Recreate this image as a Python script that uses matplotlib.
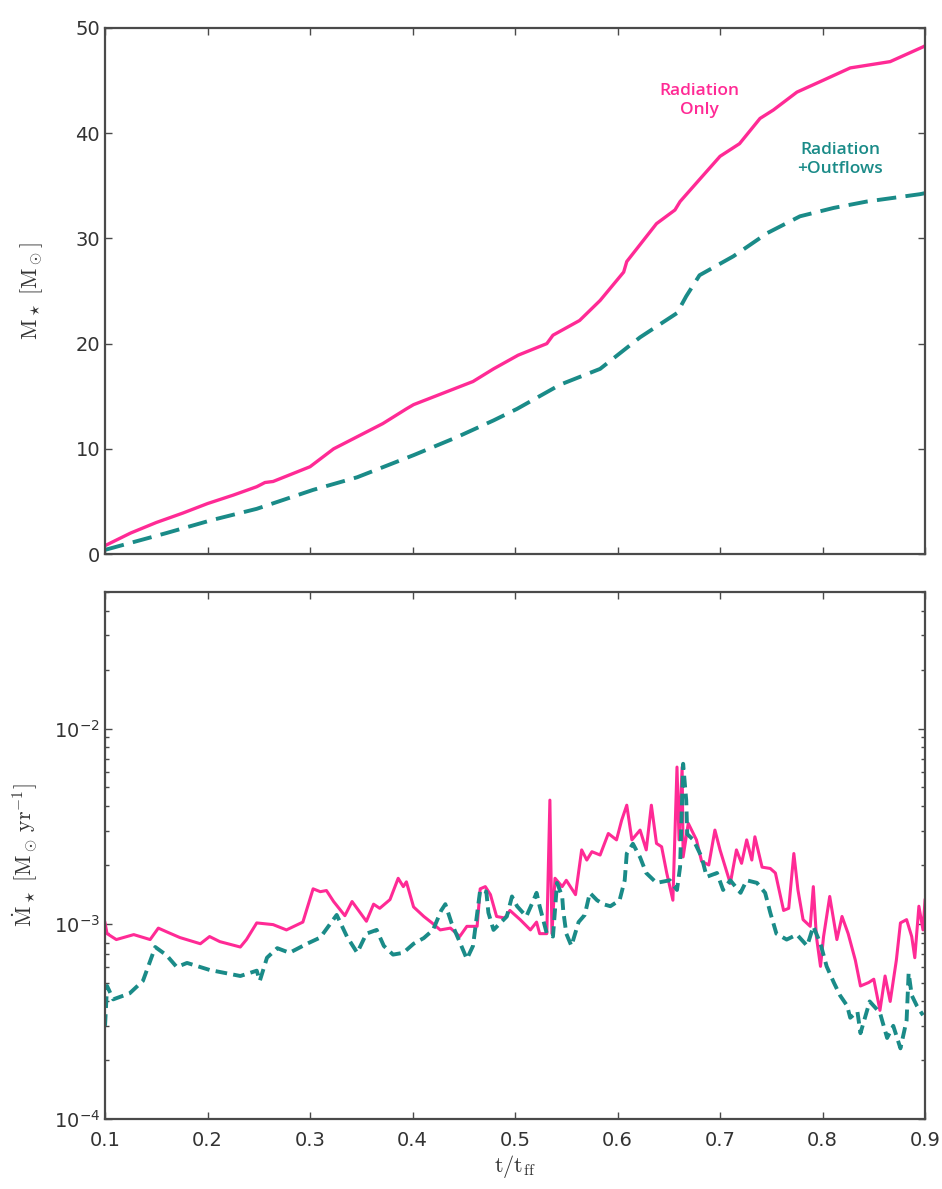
import matplotlib
matplotlib.use("Agg")
import matplotlib.pyplot as plt
from matplotlib.ticker import LogLocator, LogFormatterSciNotation, NullFormatter

# ---- data -------------------------------------------------------------
# cumulative stellar mass, radiation only
t_mass_rad = [0.100, 0.125, 0.150, 0.176, 0.200, 0.225, 0.248, 0.256, 0.264, 0.300,
              0.323, 0.371, 0.394, 0.401, 0.430, 0.459, 0.479, 0.503, 0.531, 0.537,
              0.563, 0.583, 0.606, 0.609, 0.638, 0.656, 0.661, 0.680, 0.700, 0.719,
              0.739, 0.752, 0.775, 0.800, 0.827, 0.866, 0.898, 0.900]
m_rad = [0.8, 2.0, 3.0, 3.9, 4.8, 5.6, 6.4, 6.8, 6.9, 8.3,
         10.0, 12.4, 13.8, 14.2, 15.3, 16.4, 17.6, 18.9, 20.0, 20.8,
         22.2, 24.1, 26.8, 27.8, 31.4, 32.7, 33.5, 35.6, 37.8, 39.0,
         41.4, 42.2, 43.9, 45.0, 46.2, 46.8, 48.2, 48.3]

# cumulative stellar mass, radiation + outflows
t_mass_out = [0.100, 0.130, 0.160, 0.203, 0.248, 0.303, 0.346, 0.401, 0.443, 0.479,
              0.502, 0.544, 0.583, 0.622, 0.658, 0.667, 0.680, 0.713, 0.746, 0.778,
              0.811, 0.843, 0.895, 0.900]
m_out = [0.4, 1.2, 2.0, 3.2, 4.3, 6.1, 7.3, 9.4, 11.1, 12.7,
         13.8, 16.1, 17.6, 20.6, 22.9, 24.5, 26.5, 28.3, 30.5, 32.1,
         32.9, 33.5, 34.2, 34.3]

# accretion rate, radiation only [Msun / yr]
t_rate_rad = [0.100, 0.102, 0.111, 0.128, 0.144, 0.152, 0.160, 0.173, 0.193, 0.202,
              0.212, 0.232, 0.238, 0.248, 0.264, 0.277, 0.293, 0.303, 0.310, 0.316,
              0.323, 0.334, 0.341, 0.355, 0.362, 0.368, 0.378, 0.386, 0.391, 0.394,
              0.401, 0.411, 0.419, 0.427, 0.437, 0.446, 0.453, 0.463, 0.466, 0.471,
              0.476, 0.482, 0.490, 0.495, 0.505, 0.515, 0.521, 0.524, 0.531, 0.534,
              0.536, 0.539, 0.546, 0.550, 0.559, 0.565, 0.570, 0.575, 0.583, 0.591,
              0.599, 0.604, 0.609, 0.614, 0.622, 0.628, 0.633, 0.638, 0.643, 0.648,
              0.654, 0.658, 0.660, 0.663, 0.664, 0.669, 0.677, 0.682, 0.689, 0.695,
              0.700, 0.710, 0.716, 0.721, 0.726, 0.731, 0.734, 0.741, 0.749, 0.754,
              0.762, 0.767, 0.772, 0.776, 0.781, 0.788, 0.791, 0.794, 0.798, 0.801,
              0.807, 0.814, 0.819, 0.825, 0.832, 0.837, 0.845, 0.850, 0.856, 0.861,
              0.866, 0.872, 0.876, 0.882, 0.887, 0.890, 0.894, 0.898, 0.900]
rate_rad = [1.01e-3, 8.9e-4, 8.3e-4, 8.8e-4, 8.3e-4, 9.5e-4, 9.1e-4, 8.5e-4, 7.9e-4, 8.6e-4,
            8.1e-4, 7.6e-4, 8.3e-4, 1.01e-3, 9.9e-4, 9.3e-4, 1.02e-3, 1.51e-3, 1.46e-3, 1.48e-3,
            1.30e-3, 1.10e-3, 1.30e-3, 1.03e-3, 1.26e-3, 1.20e-3, 1.33e-3, 1.71e-3, 1.55e-3, 1.64e-3,
            1.22e-3, 1.09e-3, 1.01e-3, 9.3e-4, 9.5e-4, 8.6e-4, 9.7e-4, 9.7e-4, 1.51e-3, 1.55e-3,
            1.41e-3, 1.09e-3, 1.07e-3, 1.17e-3, 1.05e-3, 9.3e-4, 1.02e-3, 8.9e-4, 8.9e-4, 4.3e-3,
            8.9e-4, 1.71e-3, 1.55e-3, 1.67e-3, 1.41e-3, 2.39e-3, 2.12e-3, 2.34e-3, 2.25e-3, 2.90e-3,
            2.69e-3, 3.39e-3, 4.05e-3, 2.69e-3, 3.02e-3, 2.39e-3, 4.05e-3, 2.58e-3, 2.48e-3, 1.82e-3,
            1.32e-3, 6.35e-3, 2.69e-3, 6.35e-3, 2.20e-3, 3.27e-3, 2.69e-3, 2.09e-3, 2.00e-3, 3.02e-3,
            2.39e-3, 1.61e-3, 2.39e-3, 2.04e-3, 2.69e-3, 2.12e-3, 2.79e-3, 1.95e-3, 1.92e-3, 1.82e-3,
            1.17e-3, 1.20e-3, 2.29e-3, 1.49e-3, 1.05e-3, 9.7e-4, 1.55e-3, 8.6e-4, 6.05e-4, 8.6e-4,
            1.38e-3, 8.3e-4, 1.09e-3, 8.9e-4, 6.5e-4, 4.8e-4, 5.0e-4, 5.2e-4, 3.6e-4, 5.4e-4,
            4.0e-4, 6.5e-4, 1.01e-3, 1.05e-3, 8.6e-4, 6.7e-4, 1.23e-3, 9.3e-4, 1.32e-3]

# accretion rate, radiation + outflows [Msun / yr]
t_rate_out = [0.100, 0.102, 0.108, 0.124, 0.137, 0.149, 0.160, 0.170, 0.180, 0.202,
              0.232, 0.248, 0.251, 0.258, 0.268, 0.280, 0.297, 0.310, 0.326, 0.336,
              0.346, 0.355, 0.365, 0.372, 0.381, 0.391, 0.401, 0.411, 0.420, 0.428,
              0.432, 0.438, 0.445, 0.453, 0.459, 0.466, 0.472, 0.474, 0.479, 0.492,
              0.497, 0.502, 0.511, 0.518, 0.521, 0.524, 0.531, 0.537, 0.541, 0.546,
              0.547, 0.550, 0.555, 0.562, 0.568, 0.573, 0.580, 0.586, 0.593, 0.602,
              0.607, 0.609, 0.615, 0.622, 0.628, 0.638, 0.651, 0.658, 0.661, 0.664,
              0.667, 0.668, 0.674, 0.682, 0.687, 0.697, 0.703, 0.710, 0.720, 0.726,
              0.736, 0.744, 0.749, 0.755, 0.765, 0.775, 0.785, 0.791, 0.798, 0.804,
              0.811, 0.817, 0.824, 0.827, 0.834, 0.837, 0.846, 0.856, 0.863, 0.869,
              0.876, 0.882, 0.884, 0.887, 0.892, 0.898]
rate_out = [3.0e-4, 4.8e-4, 4.1e-4, 4.4e-4, 5.1e-4, 7.6e-4, 6.9e-4, 6.0e-4, 6.3e-4, 5.8e-4,
            5.4e-4, 5.75e-4, 5.1e-4, 6.7e-4, 7.5e-4, 7.1e-4, 7.9e-4, 8.5e-4, 1.11e-3, 8.6e-4,
            7.1e-4, 8.9e-4, 9.3e-4, 7.7e-4, 6.95e-4, 7.1e-4, 7.9e-4, 8.45e-4, 9.3e-4, 1.17e-3,
            1.26e-3, 1.01e-3, 8.3e-4, 6.6e-4, 7.7e-4, 1.49e-3, 1.46e-3, 1.14e-3, 9.3e-4, 1.09e-3,
            1.38e-3, 1.23e-3, 1.09e-3, 1.32e-3, 1.44e-3, 1.23e-3, 8.9e-4, 8.6e-4, 1.62e-3, 1.38e-3,
            1.17e-3, 8.9e-4, 7.7e-4, 1.02e-3, 1.11e-3, 1.44e-3, 1.32e-3, 1.26e-3, 1.23e-3, 1.32e-3,
            1.67e-3, 2.29e-3, 2.57e-3, 2.19e-3, 1.82e-3, 1.62e-3, 1.67e-3, 1.49e-3, 1.95e-3, 6.6e-3,
            4.3e-3, 2.88e-3, 2.69e-3, 2.20e-3, 1.74e-3, 1.82e-3, 1.49e-3, 1.67e-3, 1.44e-3, 1.67e-3,
            1.62e-3, 1.44e-3, 1.14e-3, 8.9e-4, 8.3e-4, 8.8e-4, 7.7e-4, 9.7e-4, 7.9e-4, 6.05e-4,
            5.0e-4, 4.3e-4, 3.8e-4, 3.3e-4, 3.55e-4, 2.75e-4, 4.0e-4, 3.5e-4, 2.6e-4, 3.0e-4,
            2.3e-4, 3.2e-4, 5.6e-4, 4.3e-4, 3.8e-4, 3.4e-4]

x_ticks = [0.1, 0.2, 0.3, 0.4, 0.5, 0.6, 0.7, 0.8, 0.9]
mass_ticks = [0, 10, 20, 30, 40, 50]

# ---- style ------------------------------------------------------------
PINK = "#ff2a95"
TEAL = "#1a8b88"
SPINE = "#4a4a4a"
TICKTXT = "#333333"

plt.rcParams["font.family"] = ["DejaVu Sans"]
plt.rcParams["axes.linewidth"] = 1.6
plt.rcParams["axes.edgecolor"] = SPINE

fig = plt.figure(figsize=(9.42, 11.89), dpi=100)
ax1 = fig.add_axes([0.1115, 0.534, 0.8705, 0.4425])
ax2 = fig.add_axes([0.1115, 0.0589, 0.8705, 0.4431])


def style_axes(ax):
    ax.tick_params(which="both", direction="in", top=True, right=True,
                   colors=SPINE, labelcolor=TICKTXT, labelsize=14, width=1.0)
    ax.tick_params(which="major", length=5)
    ax.tick_params(which="minor", length=3)
    for s in ax.spines.values():
        s.set_color(SPINE)


# ---- top: stellar mass --------------------------------------------------
ax1.plot(t_mass_rad, m_rad, color=PINK, lw=2.4, solid_capstyle="round")
ax1.plot(t_mass_out, m_out, color=TEAL, lw=2.8, ls=(0, (5, 2.4)))
ax1.set_xlim(0.1, 0.9)
ax1.set_ylim(0, 50)
ax1.set_xticks(x_ticks)
ax1.set_yticks(mass_ticks)
ax1.tick_params(labelbottom=False)
style_axes(ax1)
ax1.set_ylabel(r"$\mathrm{M_\star\ [M_\odot]}$", fontsize=16,
               math_fontfamily="cm", color="#333333", labelpad=22)

ax1.text(0.68, 43.1, "Radiation\nOnly", color=PINK, fontsize=12.5,
         fontweight="semibold", ha="center", va="center", linespacing=1.3,
         family=["Open Sans", "DejaVu Sans"])
ax1.text(0.817, 37.5, "Radiation\n+Outflows", color=TEAL, fontsize=12.5,
         fontweight="semibold", ha="center", va="center", linespacing=1.3,
         family=["Open Sans", "DejaVu Sans"])

# ---- bottom: accretion rate ---------------------------------------------
ax2.plot(t_rate_rad, rate_rad, color=PINK, lw=2.2)
ax2.plot(t_rate_out, rate_out, color=TEAL, lw=2.8, ls=(0, (3, 1.6)))
ax2.set_yscale("log")
ax2.set_xlim(0.1, 0.9)
ax2.set_ylim(1e-4, 5e-2)
ax2.set_xticks(x_ticks)
ax2.set_xticklabels([f"{v:.1f}" for v in x_ticks])
ax2.yaxis.set_major_locator(LogLocator(base=10))
ax2.yaxis.set_major_formatter(LogFormatterSciNotation())
ax2.yaxis.set_minor_locator(LogLocator(base=10, subs=range(2, 10)))
ax2.yaxis.set_minor_formatter(NullFormatter())
style_axes(ax2)
ax2.tick_params(axis="x", pad=9)
ax2.set_ylabel(r"$\dot{\mathrm{M}}_\star\ [\mathrm{M_\odot\,yr^{-1}}]$", fontsize=16,
               math_fontfamily="cm", color="#333333", labelpad=10)
ax2.set_xlabel(r"$\mathrm{t/t_{ff}}$", fontsize=16, math_fontfamily="cm",
               color="#333333", labelpad=2)

fig.savefig("out.png", dpi=100)
